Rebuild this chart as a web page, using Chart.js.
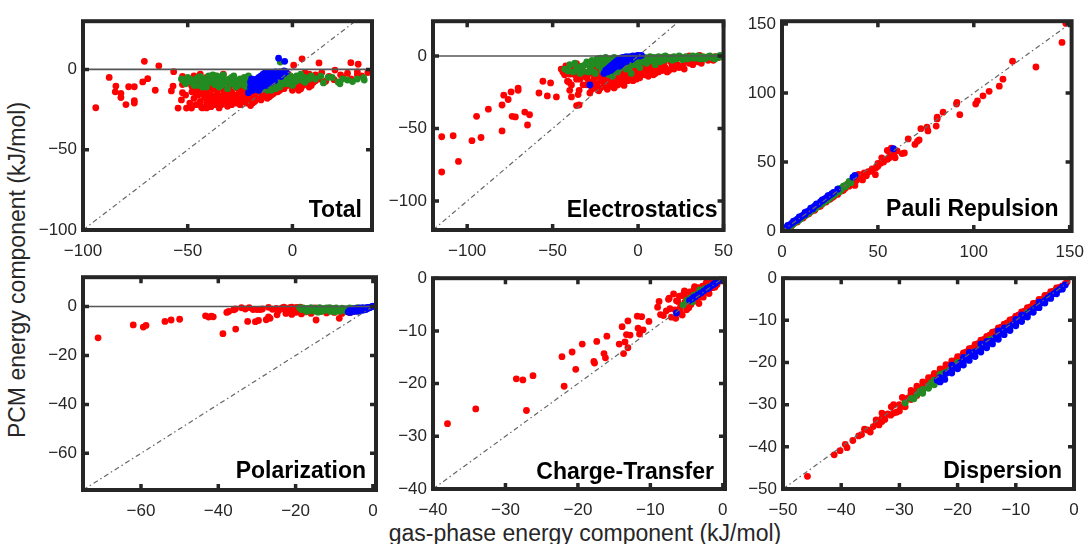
<!DOCTYPE html>
<html>
<head>
<meta charset="utf-8">
<script src="https://cdn.jsdelivr.net/npm/chart.js@4.4.1/dist/chart.umd.min.js"></script>
<style>
html,body{margin:0;padding:0;background:#fff;overflow:hidden}
#fig{position:relative;width:1091px;height:544px}
.panel{position:absolute}
.lbl{position:absolute;font-family:"Liberation Sans",Arial,sans-serif;font-size:23px;line-height:23px;color:#262626;white-space:nowrap}
#ylab{left:17px;top:270px;transform:translate(-50%,-50%) rotate(-90deg)}
#xlab{left:585px;top:522px;transform:translateX(-50%)}
</style>
</head>
<body>
<div id="fig">
  <div class="lbl" id="ylab">PCM energy component (kJ/mol)</div>
  <div class="lbl" id="xlab">gas-phase energy component (kJ/mol)</div>
</div>
<script>
// [gas-phase, PCM] pairs per term; red / green / blue sets
const totalRed=[[-93.9,-23.9],[-87.5,-5],[-84.3,-10.4],[-84.6,-14],[-81.9,-14.9],[-81.9,-17.5],[-79.5,-21.9],[-78.2,-10.8],[-75.5,-10.8],[-75.5,-19.5],[-75.5,-21],[-70.7,5],[-71.5,-7.8],[-69.1,-5.8],[-65.5,-13],[-63.8,2.2],[-57.8,-13.4],[-56.7,-1.4],[-57,-10.4],[-54.6,-24.1],[-50.6,-24.1],[-48.2,-24.1],[-52.5,-4.4],[-52.5,-9.4],[-52.5,-14.5],[-49.8,-8.4],[-43.4,-23.5],[-41,-24],[-38.9,-23.2],
[-48,-10.5],[-46.5,-12],[-45,-8],[-44,-15],[-43,-11],[-42,-17.5],[-41,-13],[-40.2,-19.5],[-40,-9],[-39,-15.5],[-38,-21],[-38,-12],[-37,-17],[-36,-14],[-36,-20],[-35,-10],[-34,-16.5],[-34,-22],[-33,-13],[-32,-18.5],[-31,-15],[-31,-21],[-30,-11],[-30,-17],[-29,-14],[-28,-19],[-28,-9],[-27,-16],[-26,-12],[-26,-20.5],[-25,-15],[-24,-18],[-24,-10],[-23,-13],[-22,-16],[-22,-21],[-21,-19],[-20,-22.5],[-20,-13],[-19,-17],[-18,-20],[-18,-15],[-17,-18],[-16,-13.5],[-16,-16],[-15,-19],[-14,-14],[-14,-17],[-13,-12],[-12,-15],[-12,-18],[-11,-13],[-10,-16],[-10,-10],[-9,-12],[-8,-14],[-8,-8],[-7,-11],[-6,-13],[-6,-6],[-5,-9],[-4,-12],[-4,-4],[-3,-7],[-2,-10],[-2,-3],[-1,-6],[0,-8],[0,-13],[1,-5],[2,-10],[3,-7],[4,-12],[5,-4],[6,-9],[7,-6],[8,-11],[9,-5],[10,-8],
[-53,-19],[-51,-16],[-49,-21],[-48,-14],[-47,-18],[-46,-22],[-45,-16],[-44,-20],[-43,-24],[-42,-14],[-41,-21],[-40,-16],[-39,-23],[-38,-18],[-37,-22],[-36,-17],[-35,-19],[-35,-24],[-33,-20],[-32,-15],[-31,-23],[-30,-19],[-29,-22],[-28,-16],[-27,-21],[-26,-17],[-25,-22],[-24,-13],[-23,-20],[-22,-14],[-21,-16],[-19,-21],[-17,-15],[-15,-16],[-13,-15],[-11,-17],[-9,-15],[-7,-14],[-5,-12],[-3,-10],[-1,-9],[1,-11],[3,-13],[5,-10],[7,-9],[9,-10],[11,-7],[-46,-15],[-44,-12],[-39,-11],
[-47,-4],[-44,-3],[-41,-5],[-37,-4],[-33,-3],
[0.6,2.6],[4.6,6.6],[12.7,4],[27.9,4.2],[31.4,3.2],[20.3,-0.4],[31,-1.5],[11,-3.4],[17.5,-4.4],[23,-3.4],[26.3,-2.4],[31,-3.4],[15.9,-7.4],[19.9,-6.4],[13,-6],[14,-2],[24,-5],[28,-6],[33,-4],[36,-2],[8,-3],[6,-2]];
const totalGreen=[[-52,-7],[-51,-9],[-50,-5],[-48,-8],[-46,-6],[-45,-10],[-44,-4.5],[-43,-8],[-42,-6],[-41,-11],[-40,-4],[-39,-8],[-38,-6],[-37,-9.5],[-36,-4],[-35,-7],[-34,-10],[-33,-5],[-32,-8],[-31,-12],[-30,-6],[-29,-9],[-28,-4],[-27,-7],[-26,-10],[-25,-6],[-24,-8],[-23,-5],[-22,-11],[-22,-7],[-21,-9],[-20,-6],[-19,-12],[-18,-8],[-17,-10],[-16,-13],[-15,-11],[-14,-9],[-13,-12],[-12,-10],[-11,-8],[-10,-11],[-9,-9],[-8,-7],[-7,-10],[-6,-8],[-5,-6],[-4,-9],[-3,-5],[-2,-7],[-1,-4],[0,-6],[1,-8],[2,-4],[3,-6],[4,-3],[5,-7],[6,-5],[7,-6.4],[9,-4],[11,-6],[13.5,-4.2],[14.8,-8.4],[17,-5],[21.8,-7.8],[22.7,-9],[26.3,-6.6],[28.7,-7.6],[34,-5.2],[34.3,-6.6],[-5.8,4.6],
[-49,-6],[-47,-10],[-45,-5],[-43,-11],[-41,-7],[-39,-5],[-37,-7],[-35,-11],[-33,-9],[-31,-7],[-29,-5],[-27,-11],[-25,-9],[-23,-10],[-21,-4],[-20,-12],[-18,-11],[-16,-11],[-14,-12],[-12,-13],[-10,-13],[-8,-12],[-6,-11],[-4,-7],[-2,-9],[0,-10],[2,-7],[4,-6],[6,-8],[8,-6],[19,-5],[24,-6],[31,-6],[-53,-6],[-38,-3.5],[-33,-3.5]];
const totalBlue=[[-21,-14.5],[-20,-8],[-20,-11],[-19,-9],[-19,-13],[-18,-7],[-18,-10],[-18,-12],[-17,-6],[-17,-9],[-17,-11],[-16,-5],[-16,-8],[-16,-10],[-16,-13],[-15,-4],[-15,-7],[-15,-9],[-15,-11],[-14,-3],[-14,-6],[-14,-8],[-14,-10],[-13,-2],[-13,-5],[-13,-7],[-13,-9],[-12,-3],[-12,-6],[-12,-8],[-11,-2],[-11,-4],[-11,-7],[-10,-3],[-10,-5],[-10,-8],[-9,-2],[-9,-4],[-9,-6],[-8,-1.5],[-8,-3],[-8,-5],[-7,-2],[-7,-4],[-6,-1.5],[-6,-3],[-5,-2],[-4,-2.5],[-3,-1.5],[-6.6,7],[-3.7,5],
[-19.5,-6],[-17.5,-12.5],[-12.5,-10],[-8.5,-7],[-5.5,-4.5],[-4,-1]];

const elecRed=[[-114.9,-55.7],[-114.9,-80],[-108.2,-55],[-105.1,-72.7],[-97.2,-58.4],[-91.9,-56.2],[-94.5,-41.6],[-87.6,-36.7],[-79.6,-51.7],[-79.6,-33.8],[-78.6,-27],[-76,-30],[-74.3,-24.8],[-73.7,-41.6],[-71.8,-42],[-70.2,-22.1],[-70.2,-23.7],[-66.3,-38.7],[-63.5,-40.5],[-64.7,-47.6],[-58,-25.5],[-55.7,-17.4],[-53.1,-27.5],[-51.2,-18.6],[-47.8,-28.2],[-42.3,-6.9],[-41.3,-17.4],[-40,-23.7],[-39,-28.2],[-35.1,-26.6],[-34.5,-23.7],[-36,-34.2],[-34.5,-33.8],[-32.2,-19.9],[-30.2,-19.9],[-28.2,-25.5],[-8.2,-20.3],[-41,-10.3],[-36,-5.2],[-40,-12.5],[-40.4,-18.1],
[-30,-15],[-28,-12],[-27,-18],[-26,-22],[-25,-9],[-24,-14],[-24,-20],[-23,-24],[-22,-11],[-22,-17],[-21,-6],[-20,-14],[-20,-21],[-19,-9],[-18,-17],[-18,-23],[-17,-12],[-16,-19],[-15,-7],[-15,-15],[-14,-22],[-13,-10],[-13,-17],[-12,-13],[-12,-20],[-11,-5],[-10,-15],[-10,-11],[-9,-18],[-8,-8],[-8,-13],[-7,-16],[-6,-10],[-5,-14],[-5,-6],[-4,-12],[-3,-17],[-2,-9],[-2,-13],[0,-11],[0,-7],[1,-15],[2,-5],[2,-10],[4,-13],[5,-8],[6,-3],[7,-11],[8,-6],[9,-13],[10,-9],[11,-4],[12,-11],[13,-7],[14,-10],[15,-5],[16,-8],[18,-10],[19,-4],[20,-7],[22,-5],[24,-8],[26.3,-6.5],[28,-3],[30,-5],[33,-2],[35,-4],[38,-1.5],[41,-3],[43,-1],[-45,-9],[-44,-11],[-43,-13],[-38,-7],[-37,-13],[-34,-16],[-33,-9],[-31,-11],[25,-1],[30,0],[36,0.5],[45,-0.5],[20,-1],
[-29,-18],[-27,-23],[-26,-16],[-25,-19],[-23,-10],[-22,-22],[-21,-15],[-20,-18],[-19,-13],[-17,-21],[-17,-15],[-16,-12],[-15,-18],[-14,-10],[-14,-16],[-13,-19],[-12,-8],[-11,-16],[-10,-19],[-9,-10],[-9,-14],[-7,-12],[-6,-17],[-6,-7],[-4,-9],[-4,-15],[-3,-5],[-1,-12],[-1,-16],[1,-9],[3,-12],[3,-7],[5,-11],[6,-14],[8,-9],[10,-12],[12,-6],[14,-7],[17,-11],[21,-9],[23,-6],[27,-9],[32,-6],[37,-5],[40,-2],[44,-3],[47,-1],[-36,-16],[-32,-14],[-39,-20]];
const elecGreen=[[-43,-9],[-41,-10.3],[-40,-6],[-38,-11],[-36,-8],[-34,-12],[-32,-10.7],[-31,-6],[-30,-4],[-28,-8],[-27,-3],[-26,-11],[-25,-5],[-24,-2],[-23,-7],[-22,-1.5],[-21,-10],[-20,-4],[-19,-1],[-18,-7],[-17,-13],[-16,-2],[-15,-9],[-14,-1],[-13,-5],[-12,-11],[-11,-1.5],[-10,-7],[-9,-3],[-8,-1],[-7,-9],[-6,-5],[-5,-2],[-4,-12],[-3,-1],[-2,-6],[-1,-3],[0,-1],[1,-8],[2,-2],[3,-4],[4,-1],[5,-5],[6,-2],[7,-0.5],[8,-3],[9,-1],[10,-6],[11,-2],[12,-0.5],[13,-4],[14,-1.5],[15,-3],[16,0],[17,-2],[18,-1],[20,-3],[21,-0.5],[23,-1.5],[25,-1],[26,-2.5],[28,-0.5],[30,-1.5],[32,0],[34,-1],[36,-2],[38,-0.5],[40,-1],[42,0],[44,-1.5],[46,-0.5],[48,0.5],[49,-0.5],
[-37,-5],[-35,-10],[-33,-7],[-29,-11],[-27,-6],[-25,-12],[-23,-3],[-21,-7],[-19,-12],[-17,-4],[-15,-14],[-13,-11],[-11,-9],[-9,-7],[-7,-6],[-5,-8],[-3,-4],[-1,-6],[1,-4],[3,-1],[5,-2],[7,-3],[9,-4],[11,-1],[13,-2],[15,-0.5],[19,-2],[22,-2],[24,0],[27,-1.5],[29,-2],[31,-0.5],[33,-1.5],[35,0],[37,-1],[39,-2],[41,-0.5],[43,-1],[45,-2],[47,-1]];
const elecBlue=[[-28.2,-20],[-20,-12],[-19,-10],[-18,-9],[-18,-11],[-17,-8],[-16,-10],[-16,-7],[-15,-6],[-15,-9],[-14,-5],[-14,-8],[-13,-4],[-13,-7],[-12,-3],[-12,-6],[-11,-2],[-11,-5],[-11,-7],[-10,-2],[-10,-4],[-10,-6],[-9,-1],[-9,-3],[-9,-5],[-8,-1],[-8,-3],[-7,-0.5],[-7,-2],[-7,-4],[-6,-1],[-6,-3],[-5,-0.5],[-5,-2],[-4,-1],[-4,-2.5],[-3,0],[-3,-1.5],[-2,-0.5],[-1,0],[0,0.5],[1,0],[2,0.5]];

const pauliRed=[[148,150.4],[146,136.6],[132.4,118.8],[120.2,123],[115.2,110],[113.3,104.9],[108,101.2],[104.8,97.9],[101.9,94.3],[101,92],[91.2,93.1],[91,92],[92.7,84.3],[84,86.1],[80.9,82.4],[80.9,81.2],[80.4,76],[75.6,75.3],[72.4,74.1],[76.1,72.5],[71.5,66],[70.6,65],[69.3,62.7],[65.8,66.7],[63.8,56.5],[62.6,56.1],[58.3,54.9],[54.9,58.4],[60,58],[59,53],[55.9,57.2],[57,60],[55,52],[51.4,49.1],[52,53],[48.9,45.6],[50,49],[46.3,43.2],[48.7,40.8],[47,45],[42.9,42.1],[44,40],[45,43],[42,37],[43,40],[41,39],[40,41],[39,37],[38,33],[37,35],[36,36],[35,33],[34,34],[33,31],[32,32],[31,29],[30,30],[29,27],[28,28],[27,25],[26,26],[25,23],[24,24],[23,21.5],[22,22],[21,19.5],[20,20],[19,17.5],[18,18],[17,15.5],[16,16],[15,14],[14,13],[13,12],[12,11],[11,10.5],[10,9],[9,8.5],[8,7.5],[7,6.5],[6,5.5],[5,4.5],[4,3.5],[3,2.8],[2,2],[1,1],
[5,3.6],[8,6.5],[11,9.5],[14,12.5],[17,15],[20,18],[23,21],[26,24],[29,26.5],[32,29.5],[35,32.5],[38,35],[41,38],[44,41.5],[47,44],[50,47],[53,50],[56,53]];
const pauliGreen=[[29.8,30.7],[31,31],[32,32.5],[30,28.5],[28,27],[27,28],[26,25],[25,24],[24,22.5],[22,21],[20,19],[18,17],[16,15],[14,13],[12,11],[10,9],[8,7],[6,5],[4,3],[2,1.5],[33,33],[35,36],[31,30],[29,29],
[5,4.2],[9,8],[13,12.3],[17,16],[21,20],[23,22],[27,26],[33,32],[34,33.5],[36,35]];
const pauliBlue=[[58.1,59.6],[38,40.3],[37,39],[26,27],[25,26],[24,25],[23,24],[22,23],[21,22],[20,21],[19,19.5],[18,19],[17,18],[16,17],[15,16],[14,14.5],[13,14],[12,12.5],[11,11.5],[10,10.5],[9,9.5],[8,8.5],[7,7.5],[6,6.5],[5,5.5],[4,4.5],[3,3.5],[2,2.5],[1,1.5],[0.5,0.5],[16,16],[12,12],[8,8],
[3,4],[6,7.2],[9,10.3],[12,13.4],[15,16.5],[18,19.6],[21,22.6],[24,25.6],[27,28],[29,30.3]];

const polRed=[[-71.1,-12.8],[-62,-7.5],[-59.4,-8.4],[-58.7,-7.7],[-53.8,-6.1],[-52.2,-5.5],[-50,-5.2],[-43.3,-3.8],[-42.5,-4.3],[-41.8,-3.9],[-41.3,-4.2],[-38.8,-11.1],[-37.8,-2.4],[-37.3,-2],[-36,-1.3],[-35.6,-1],[-35.5,-9.2],[-32.4,-6.1],[-31,-1.2],[-30,-1.2],[-29.2,-1.2],[-28.6,-1],[-30.4,-6.2],[-29.6,-5.7],[-27.6,-5.4],[-27,-4.2],[-26.6,-4.8],[-25,-0.8],[-24.8,-3.4],[-24.4,-1.7],[-23.5,-0.6],[-22.5,-2.8],[-22,-1.6],[-21.5,-0.5],[-21,-3.2],[-20.5,-1.2],[-20,-2.4],[-19.5,-0.3],[-19,-1.8],[-18.5,-3],[-18,-0.8],[-17.5,-2.2],[-17,-1.2],[-16,-2.8],[-15,-0.6],[-14.7,-5.5],[-14,-2],[-13,-1],[-12,-2.6],[-11,-1.4],[-10,-2.4],[-9,-1.8],[-8.7,-4.8],[-8,-2.8],[-7,-1.5],[-6,-2.5],[-5,-2],[-4,-1.6],[-3,-1.2],[-2,-0.8],[-1,-0.4],
[-34,-0.5],[-33,-1],[-32,-0.4],[-27,-0.3],[-26,-1.1],[-23,-0.2],[-22.8,-1.2],[-21,-0.2],[-20,-0.4],[-18.8,-0.2]];
const polGreen=[[-18,-0.6],[-17.5,-1.4],[-17,-0.8],[-16.5,-1.8],[-16,-0.5],[-15.5,-1.2],[-15,-1.9],[-14.5,-0.7],[-14,-1.5],[-13.5,-2.1],[-13,-0.9],[-12.5,-1.6],[-12,-0.6],[-11.5,-1.3],[-11,-2],[-10.5,-0.8],[-10,-1.5],[-9.5,-0.6],[-9,-1.2],[-8.5,-1.9],[-8,-0.7],[-7.5,-1.4],[-7,-0.9],[-6.5,-1.6],[-6,-0.6],[-5.5,-1.2],[-5,-0.8],[-4.5,-1.4],[-4,-0.5],[-3.5,-1],
[-18.5,-1.2],[-17.2,-2],[-15.8,-0.9],[-14.2,-2.3],[-12.8,-1.3],[-11.2,-0.5],[-9.8,-2.2],[-8.2,-1.2],[-6.8,-2],[-5.2,-1.6],[-19,-0.5],[-13.8,-0.4]];
const polBlue=[[-6.4,-2.2],[-6,-1.6],[-5.8,-2.4],[-5.5,-1.2],[-5,-2],[-5,-1],[-4.6,-1.6],[-4.2,-0.8],[-4,-2],[-3.8,-1.3],[-3.4,-0.6],[-3.2,-1.7],[-3,-1],[-2.6,-0.4],[-2.4,-1.4],[-2,-0.8],[-1.8,-1.2],[-1.5,-0.3],[-1.2,-0.7],[-0.8,-0.4],[-0.5,-0.2],[-0.2,0],[0,0.2]];

const ctRed=[[-38,-27.6],[-34.1,-24.8],[-28.5,-19.1],[-27.6,-19.3],[-26.2,-18.5],[-27.1,-25.1],[-22.2,-14.9],[-21.9,-20.5],[-20.8,-14],[-20.3,-17.3],[-19.4,-12.5],[-17.8,-15.8],[-17.7,-16.1],[-17.4,-12],[-16.4,-14.3],[-16.2,-15.1],[-16,-11],[-14.3,-12.5],[-13.9,-9.2],[-13.7,-14.3],[-13.5,-12.1],[-13.3,-10.7],[-12.8,-10.8],[-13.1,-13.2],[-13.1,-8.1],[-11.8,-7.2],[-11.2,-7.3],[-11.7,-9.5],[-11.5,-10.6],[-11,-9.8],[-10.2,-8.2],[-8.6,-6.9],[-8.2,-7.1],[-7.5,-4],[-7.4,-3.8],[-7.3,-5.8],[-7.1,-7.4],[-6.6,-6],[-6.4,-4.3],[-6.2,-4.4],[-6,-3.4],[-5.9,-5.8],[-5.8,-5.2],[-5.7,-6.8],[-5.6,-7],[-5.5,-3.3],[-5.4,-3],[-5.2,-4.5],[-5,-6],[-4.8,-3.8],[-4.6,-2.6],[-4.4,-5],[-4.2,-3.5],[-4,-2.2],[-3.8,-4.3],[-3.6,-3],[-3.4,-1.8],[-3.2,-3.6],[-3,-2.4],[-2.8,-1.5],[-2.6,-2.9],[-2.4,-2],[-2.2,-1.2],[-2,-2.4],[-1.8,-1.5],[-1.6,-0.8],[-1.4,-1.8],[-1.2,-1],[-1,-0.5],[-0.8,-1.2],[-0.6,-0.6],[-0.4,-0.3],[-0.2,-0.2],
[-9,-5.5],[-8.8,-4.4],[-7.8,-6.2],[-6.8,-3],[-6.5,-7.6],[-5.3,-2.4],[-4.7,-5.6],[-3.9,-1.6],[-3.3,-4.8],[-2.7,-3.6],[-2.3,-0.9],[-1.9,-2.9],[-1.1,-1.7],[-0.9,-0.2]];
const ctGreen=[[-5.5,-5.1],[-5,-4.2],[-4.5,-3.8],[-4,-3.2],[-3.5,-3],[-3,-2.5],[-2.5,-2],[-2,-1.7],[-4.2,-4.5],[-3.2,-2.2],[-1.5,-1.3]];
const ctBlue=[[-6.4,-6.6],[-4.6,-4.2],[-4.2,-3.9],[-3.8,-3.5],[-3.4,-3.1],[-3,-2.8],[-2.6,-2.4],[-2.2,-2],[-1.8,-1.7],[-1.4,-1.3],[-1,-0.9],[-0.6,-0.5],[-0.3,-0.2],[-4,-3.6],[-2,-1.9],[-1.2,-1.1]];

const dispRed=[[-45.8,-47],[-41.2,-41.9],[-40.2,-40.9],[-39.3,-39.4],[-39,-40.2],[-36.5,-37.1],[-35.5,-36],[-35,-36.5],[-34.5,-35.2],[-34,-34.5],[-33.5,-34.8],[-33,-33.2],[-32.5,-33.5],[-32,-32.2],[-31.4,-30.5],[-31,-32],[-30.5,-31.8],[-30,-31.5],[-30,-30],[-29.5,-30.4],[-29,-29.2],[-28.5,-28.4],[-28,-28.8],[-27.5,-27.3],[-27,-26.7],[-26.5,-26.8],[-26,-25.6],[-25.5,-25.2],[-25,-24.3],[-24.5,-23.6],[-24,-23.5],[-23.5,-22.8],[-23,-22],[-22.5,-21.6],[-22,-21],[-21.5,-20.6],[-21,-20.2],[-20.5,-19.6],[-20,-19.1],[-19.5,-18.6],[-19,-18],[-18.5,-17.5],[-18,-17],[-17.5,-16.6],[-17,-16.1],[-16.5,-15.5],[-16,-15],[-15.5,-14.5],[-15,-14.1],[-14.5,-13.5],[-14,-13],[-13.5,-12.6],[-13,-12.2],[-12.5,-11.6],[-12,-11],[-11.5,-10.6],[-11,-10.2],[-10.5,-9.7],[-10,-9.1],[-9.5,-8.7],[-9,-8.3],[-8.5,-7.8],[-8,-7.2],[-7.5,-6.8],[-7,-6.4],[-6.5,-5.9],[-6,-5.4],[-5.5,-5],[-5,-4.5],[-4.5,-4],[-4,-3.6],[-3.5,-3.1],[-3,-2.7],[-2.5,-2.2],[-2,-1.8],[-1.5,-1.3],[-1.2,-0.9],[-29,-30.5],[-28,-27.3],[-26,-27],[-24,-24.8],
[-33,-32],[-31,-30],[-29.5,-28.3],[-28,-26.6],[-27,-25.6],[-26,-24.6],[-25,-23.6],[-24,-22.6],[-23,-21.5],[-22,-20.5],[-21,-19.6],[-20,-18.6],[-19,-17.7],[-18,-16.7],[-17,-15.7],[-16,-14.7],[-15,-13.8],[-14,-12.8],[-13,-11.8],[-12,-10.9],[-11,-9.9],[-10,-9],[-9,-8],[-8,-7],[-7,-6],[-6,-5],[-5,-4.1],[-4,-3.2],[-3,-2.3],[-34,-33.6],[-36,-35.8],[-37,-37.4],[-38,-38.5],[-33,-34],[-31.5,-32.5],[-27,-27.8],[-25,-25.8],[-23,-24]];
const dispGreen=[[-28,-28.5],[-27,-27.6],[-26.5,-26.8],[-26,-26.4],[-25,-25.5],[-24.5,-24.8],[-24,-24.2],[-23,-23.4],[-22.5,-22.6],[-22,-22.3],[-21,-21.2],[-20,-20.4],[-19,-19.3],[-18.5,-18.7],[-18,-18.4],[-17,-17.4],[-16,-16.5],[-15,-15.3],[-14,-14.4],[-13,-13.3],[-12,-12.4],[-11,-11.3],[-10,-10.4],[-9,-9.3],[-8,-8.2],[-6,-6.1],[-4,-4.1],
[-29,-29.6],[-27.5,-28.6],[-26,-27.3],[-25,-26.1],[-24,-25.3],[-23,-22.8],[-21.5,-21.9],[-20,-20],[-19.5,-20.5],[-18,-18],[-17.5,-18.2],[-16,-15.9],[-14.5,-14.6],[-13.5,-14.2],[-12,-12],[-11,-11.8],[-10,-10],[-8.5,-8.9],[-7,-7.3],[-5,-5.2],[-3,-3.1]];
const dispBlue=[[-23.5,-24.2],[-23,-23.6],[-22.2,-24],[-22,-22.6],[-21.5,-22.3],[-21,-21.8],[-20.5,-21],[-20,-20.8],[-19.5,-20.1],[-19,-19.8],[-18.5,-19.1],[-18,-18.6],[-17.5,-18.3],[-17,-17.5],[-16.5,-17.2],[-16,-16.8],[-15.5,-16.1],[-15,-15.7],[-14.5,-15],[-14,-14.8],[-13.5,-14.1],[-13,-13.7],[-12.5,-13],[-12,-12.6],[-11.5,-12.2],[-11,-11.5],[-10.5,-11],[-10,-10.6],[-9.5,-10],[-9,-9.5],[-8.5,-9],[-8,-8.5],[-7.5,-7.9],[-7,-7.4],[-6.5,-6.9],[-6,-6.3],[-5.5,-5.8],[-5,-5.3],[-4.5,-4.7],[-4,-4.2],[-3.5,-3.7],[-3,-3.2],[-2.5,-2.7],[-2,-2.1],[-1.5,-1.6],[-15,-15],[-18,-17.6],[-12,-11.8],[-21,-20.6],[-10,-9.8],
[-23,-24.6],[-21,-22.5],[-20,-21.5],[-19,-20.6],[-18,-19.5],[-17,-18.6],[-16,-17.5],[-15,-16.5],[-14,-15.6],[-13,-14.5],[-12,-13.4],[-11,-12.4],[-10,-11.3],[-9,-10.3],[-8,-9.2],[-7,-8.1],[-6,-7],[-5,-5.9],[-4,-4.8],[-3,-3.7],[-2,-2.6],[-13,-12.5],[-9,-8.7],[-6,-5.7],[-16,-15.6],[-19,-18.8]];

// axis limits and tick positions
const totalX=[-100,38], totalY=[-100,30], totalXTicks=[-100,-50,0], totalYTicks=[-100,-50,0];
const elecX=[-120,50], elecY=[-120,24], elecXTicks=[-100,-50,0,50], elecYTicks=[-100,-50,0];
const pauliX=[0,151], pauliY=[0,152], pauliXTicks=[0,50,100,150], pauliYTicks=[0,50,100,150];
const polX=[-75,0.8], polY=[-75,12], polXTicks=[-60,-40,-20,0], polYTicks=[-60,-40,-20,0];
const ctX=[-40,0.3], ctY=[-40,0], ctXTicks=[-40,-30,-20,-10,0], ctYTicks=[-40,-30,-20,-10,0];
const dispX=[-50,0], dispY=[-50,0], dispXTicks=[-50,-40,-30,-20,-10,0], dispYTicks=[-50,-40,-30,-20,-10,0];

const panels=[
  {title:'Total', red:totalRed, green:totalGreen, blue:totalBlue, x:totalX, y:totalY, xt:totalXTicks, yt:totalYTicks, box:[83,17,372,230], inset:10, base:13},
  {title:'Electrostatics', red:elecRed, green:elecGreen, blue:elecBlue, x:elecX, y:elecY, xt:elecXTicks, yt:elecYTicks, box:[433,17,724,230], inset:6, base:13},
  {title:'Pauli Repulsion', red:pauliRed, green:pauliGreen, blue:pauliBlue, x:pauliX, y:pauliY, xt:pauliXTicks, yt:pauliYTicks, box:[782,17,1075,231], inset:13, base:15},
  {title:'Polarization', red:polRed, green:polGreen, blue:polBlue, x:polX, y:polY, xt:polXTicks, yt:polYTicks, box:[83,273,376,490], inset:10, base:12},
  {title:'Charge-Transfer', red:ctRed, green:ctGreen, blue:ctBlue, x:ctX, y:ctY, xt:ctXTicks, yt:ctYTicks, box:[433,274,725,489], inset:11, base:10},
  {title:'Dispersion', red:dispRed, green:dispGreen, blue:dispBlue, x:dispX, y:dispY, xt:dispXTicks, yt:dispYTicks, box:[783,274,1074,489], inset:12, base:11}
];

const FONT='"Liberation Sans", Arial, Helvetica, sans-serif';
const AX='#262626';
const PAD_L=50, PAD_T=12, PAD_R=20, PAD_B=30;

function pts(a){return a.map(p=>({x:p[0],y:p[1]}))}
function fmt(v){return v<0 ? '\u2212'+Math.abs(v) : String(v)}

// zero line, y=x guide, panel name, heavy box with inward ticks
const frame={
  id:'frame',
  afterDraw(chart, args, o){
    const {ctx, chartArea:a, scales:{x, y}}=chart;
    ctx.save();
    ctx.beginPath(); ctx.rect(a.left, a.top, a.width, a.height); ctx.clip();
    if(y.min<0 && y.max>0){
      const p=y.getPixelForValue(0);
      ctx.strokeStyle='#555'; ctx.lineWidth=1.6;
      ctx.beginPath(); ctx.moveTo(a.left,p); ctx.lineTo(a.right,p); ctx.stroke();
    }
    const lo=Math.max(x.min,y.min), hi=Math.min(x.max,y.max);
    ctx.strokeStyle='#666'; ctx.lineWidth=1.2; ctx.setLineDash([5,3,1.5,3]);
    ctx.beginPath();
    ctx.moveTo(x.getPixelForValue(lo), y.getPixelForValue(lo));
    ctx.lineTo(x.getPixelForValue(hi), y.getPixelForValue(hi));
    ctx.stroke();
    ctx.restore();

    ctx.save();
    ctx.font='bold 23px '+FONT; ctx.fillStyle='#000';
    ctx.textAlign='right'; ctx.textBaseline='alphabetic';
    ctx.fillText(o.title, a.right-o.inset, a.bottom-o.base);

    ctx.strokeStyle=AX; ctx.lineWidth=4;
    ctx.strokeRect(a.left, a.top, a.width, a.height);
    ctx.lineWidth=3.5;
    ctx.beginPath();
    for(const t of x.ticks){
      const p=x.getPixelForValue(t.value);
      ctx.moveTo(p,a.bottom); ctx.lineTo(p,a.bottom-6);
      ctx.moveTo(p,a.top); ctx.lineTo(p,a.top+6);
    }
    for(const t of y.ticks){
      const p=y.getPixelForValue(t.value);
      ctx.moveTo(a.left,p); ctx.lineTo(a.left+6,p);
      ctx.moveTo(a.right,p); ctx.lineTo(a.right-6,p);
    }
    ctx.stroke();
    ctx.restore();
  }
};

function axis(lim, ticks, isX){
  return {
    type:'linear', min:lim[0], max:lim[1],
    afterBuildTicks(s){ s.ticks=ticks.map(v=>({value:v})) },
    afterFit(s){ if(isX) s.height=PAD_B; else s.width=PAD_L },
    grid:{display:false, drawTicks:false},
    border:{display:false},
    ticks:{autoSkip:false, maxRotation:0, color:AX, padding:isX?11:6,
      font:{family:FONT, size:17}, callback:v=>fmt(v)}
  };
}

const fig=document.getElementById('fig');
panels.forEach(p=>{
  const [L,T,R,B]=p.box;
  const w=R-L+PAD_L+PAD_R, h=B-T+PAD_T+PAD_B;
  const c=document.createElement('canvas');
  c.className='panel';
  c.width=w; c.height=h;
  c.style.left=(L-PAD_L)+'px'; c.style.top=(T-PAD_T)+'px';
  c.style.width=w+'px'; c.style.height=h+'px';
  fig.appendChild(c);
  const dot=(data,col)=>({data:pts(data), backgroundColor:col, borderWidth:0, pointRadius:3.4, pointHoverRadius:3.4});
  new Chart(c,{
    type:'scatter',
    // first dataset is painted last, so blue sits on top
    data:{datasets:[dot(p.blue,'#0000ff'), dot(p.green,'#228b22'), dot(p.red,'#ff0000')]},
    options:{
      responsive:false, animation:false, devicePixelRatio:1,
      layout:{padding:{top:PAD_T, right:PAD_R, left:0, bottom:0}},
      plugins:{legend:{display:false}, tooltip:{enabled:false},
        frame:{title:p.title, inset:p.inset, base:p.base}},
      scales:{x:axis(p.x,p.xt,true), y:axis(p.y,p.yt,false)}
    },
    plugins:[frame]
  });
});
</script>
</body>
</html>
